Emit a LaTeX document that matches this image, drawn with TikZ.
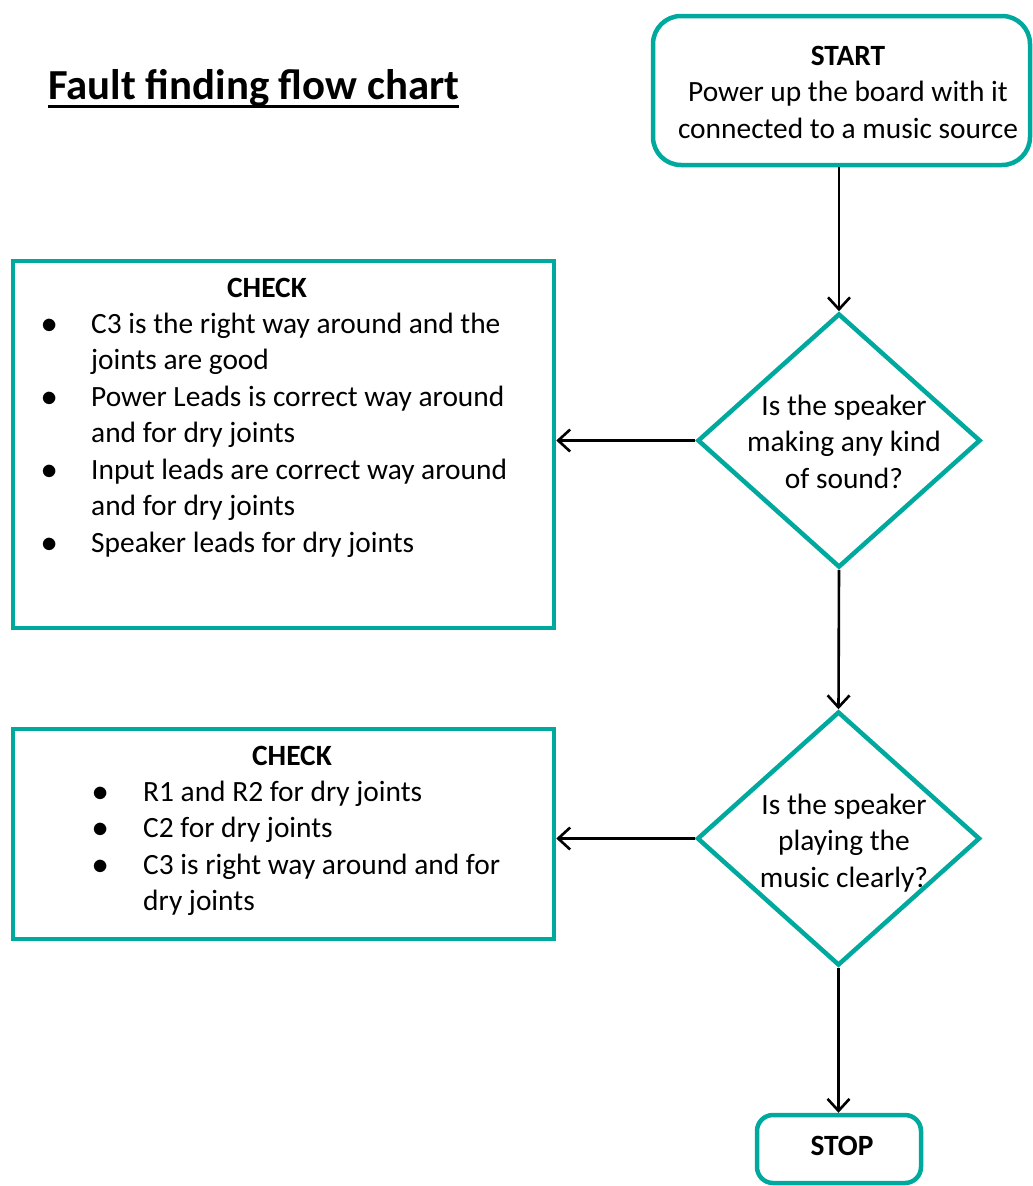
\documentclass[tikz,border=0pt]{standalone}
\usepackage{fontspec}
\setmainfont{Carlito}
\usetikzlibrary{shapes.geometric,arrows.meta,positioning}
\definecolor{chartteal}{RGB}{0,169,157}
\newcommand\titleline[1]{\setbox0\hbox{#1}\rlap{\rule[-9pt]{\wd0}{3pt}}\box0}
\newcommand\blt{\scalebox{1.3}{$\bullet$}}

\begin{document}
\begin{tikzpicture}[x=1pt,y=1pt,yscale=-1,
  txt/.style={inner sep=0pt,align=center,font=\fontsize{29.4}{36.5}\selectfont},
  termbox/.style={draw=chartteal,line width=4.5pt,rectangle,rounded corners=#1},
  checkbox/.style={draw=chartteal,line width=4.5pt,rectangle},
  decision/.style={draw=chartteal,line width=4.5pt,diamond,inner sep=0pt,
    minimum width=283pt,minimum height=254pt},
  flow/.style={draw,line width=2.6pt,-{Straight Barb[length=12pt,width=22pt]}}]
\useasboundingbox (0,0) rectangle (1033,1186);

%Title
\node[txt,anchor=base west,font=\fontsize{42.8}{48}\selectfont\bfseries] (title) at (48,99) {\titleline{Fault finding flow chart}};

%Shape: Start box
\node[termbox=28pt,minimum width=377pt,minimum height=149pt] (start) at (841.5,90.5) {};
% Text Node
\node[txt] (starttext) at (848,92) {\textbf{START}\\Power up the board with it\\connected to a music source};

%Shape: Diamond 1
\node[decision] (dia1) at (839,440.5) {};
% Text Node
\node[txt] (dia1text) at (844,441.5) {Is the speaker\\making any kind\\of sound?};

%Shape: Check box 1
\node[checkbox,minimum width=541pt,minimum height=367pt] (check1) at (283.5,444.5) {};
% Text Node
\node[txt,anchor=base,font=\fontsize{29.4}{36.5}\selectfont\bfseries] (head1) at (267,297) {CHECK};
\node[txt,anchor=north west] (list1) at (41,307.5) {%
\begin{tabular}{@{}p{50pt}@{}l@{}}
\blt & C3 is the right way around and the\\
 & joints are good\\
\blt & Power Leads is correct way around\\
 & and for dry joints\\
\blt & Input leads are correct way around\\
 & and for dry joints\\
\blt & Speaker leads for dry joints
\end{tabular}};

%Shape: Diamond 2
\node[decision] (dia2) at (838.5,838.5) {};
% Text Node
\node[txt] (dia2text) at (844,843) {Is the speaker\\playing the\\music clearly?};

%Shape: Check box 2
\node[checkbox,minimum width=541pt,minimum height=210pt] (check2) at (283.5,834) {};
% Text Node
\node[txt,anchor=base,font=\fontsize{29.4}{36.5}\selectfont\bfseries] (head2) at (292,765.5) {CHECK};
\node[txt,anchor=north west] (list2) at (92,775.5) {%
\begin{tabular}{@{}p{51pt}@{}l@{}}
\blt & R1 and R2 for dry joints\\
\blt & C2 for dry joints\\
\blt & C3 is right way around and for\\
 & dry joints
\end{tabular}};

%Shape: Stop box
\node[termbox=16pt,minimum width=164pt,minimum height=68pt] (stop) at (839,1149) {};
% Text Node
\node[txt,font=\fontsize{29.4}{36.5}\selectfont\bfseries] (stoptext) at (842,1146) {STOP};

% Connection
\draw[flow] (start.south -| dia1.north) -- (dia1.north);
\draw[flow] (dia1.west) -- (dia1.west -| check1.east);
\draw[flow] (dia1.south) -- (dia2.north);
\draw[flow] (dia2.west) -- (dia2.west -| check2.east);
\draw[flow] (dia2.south) -- (stop.north -| dia2.south);

\end{tikzpicture}
\end{document}
